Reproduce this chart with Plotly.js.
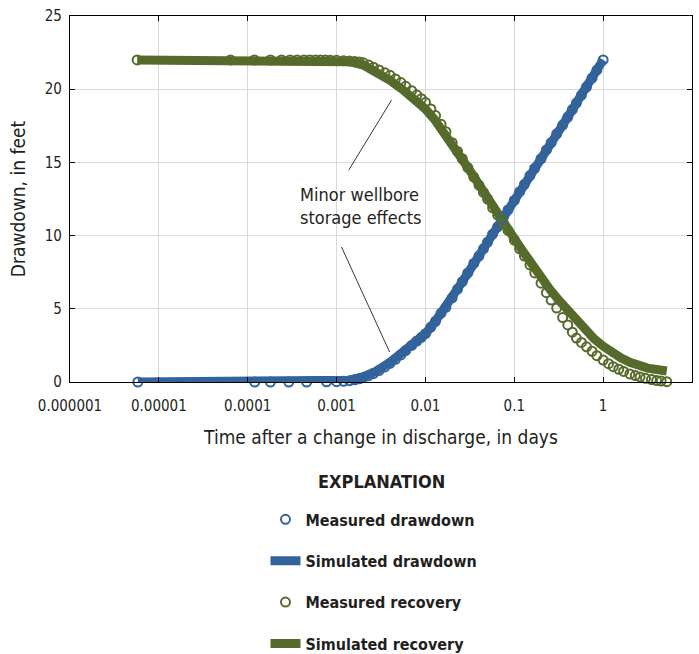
<!DOCTYPE html>
<html>
<head>
<meta charset="utf-8">
<script src="https://cdn.plot.ly/plotly-3.0.1.min.js"></script>
<style>
  html, body { margin: 0; padding: 0; background: #ffffff; }
  #chart { width: 699px; height: 654px; }
</style>
</head>
<body>
<div id="chart"></div>
<script>
// ---- Data (time after a change in discharge, days; drawdown, feet) ----
const measDrawdownTime = [5.8e-6, 1.2e-4, 1.8e-4, 2.9e-4, 4.6e-4, 7.7e-4, 1.0e-3, 1.2e-3, 1.4e-3, 1.6e-3, 1.8e-3, 2.0e-3, 2.3e-3, 2.6e-3, 3.0e-3, 3.5e-3, 4.0e-3, 4.6e-3, 5.3e-3, 6.0e-3, 7.0e-3, 8.0e-3, 9.0e-3, 0.010, 0.0115, 0.013, 0.015, 0.017, 0.02, 0.023, 0.026, 0.03, 0.035, 0.04, 0.045, 0.05, 0.057, 0.065, 0.075, 0.085, 0.1, 0.115, 0.13, 0.15, 0.17, 0.2, 0.23, 0.26, 0.3, 0.35, 0.4, 0.45, 0.5, 0.57, 0.65, 0.75, 0.85, 1.0];
const measDrawdown = [0, 0, 0, 0, 0, 0.01, 0.02, 0.05, 0.09, 0.15, 0.22, 0.3, 0.43, 0.58, 0.78, 1.03, 1.28, 1.55, 1.85, 2.15, 2.5, 2.8, 3.05, 3.3, 3.75, 4.15, 4.7, 5.1, 5.75, 6.35, 6.85, 7.45, 8.1, 8.6, 9.1, 9.55, 10.1, 10.6, 11.2, 11.75, 12.4, 13.0, 13.5, 14.1, 14.6, 15.25, 15.85, 16.35, 16.95, 17.55, 18.1, 18.6, 19.05, 19.6, 20.15, 20.75, 21.3, 22.0];

const simDrawdownTime = [5.8e-6, 1e-4, 5e-4, 1e-3, 1.4e-3, 2e-3, 2.8e-3, 4e-3, 5.6e-3, 7.9e-3, 0.01, 0.0126, 0.0158, 0.02, 0.025, 0.0316, 0.04, 0.05, 0.063, 0.079, 0.1, 0.158, 0.25, 0.4, 0.63, 1.0];
const simDrawdown = [0, 0, 0, 0.03, 0.12, 0.35, 0.75, 1.35, 2.0, 2.7, 3.3, 4.05, 4.85, 5.75, 6.7, 7.65, 8.6, 9.55, 10.5, 11.45, 12.4, 14.3, 16.2, 18.1, 20.05, 22.0];

const measRecoveryTime = [5.7e-6, 6.4e-5, 1.19e-4, 1.8e-4, 2.4e-4, 3.0e-4, 3.6e-4, 4.3e-4, 5.0e-4, 5.8e-4, 6.6e-4, 7.5e-4, 8.5e-4, 1.0e-3, 1.2e-3, 1.4e-3, 1.6e-3, 1.8e-3, 2.0e-3, 2.3e-3, 2.6e-3, 3.0e-3, 3.5e-3, 4.0e-3, 4.6e-3, 5.3e-3, 6.0e-3, 7.0e-3, 8.0e-3, 9.0e-3, 0.010, 0.0115, 0.013, 0.015, 0.017, 0.02, 0.023, 0.026, 0.03, 0.035, 0.04, 0.045, 0.05, 0.057, 0.065, 0.075, 0.085, 0.1, 0.115, 0.13, 0.15, 0.17, 0.2, 0.23, 0.26, 0.3, 0.35, 0.4, 0.45, 0.5, 0.57, 0.65, 0.75, 0.85, 1.0, 1.15, 1.3, 1.5, 1.7, 2.0, 2.3, 2.6, 3.0, 3.5, 4.0, 4.5, 5.2];
const measRecovery = [22.0, 22.0, 22.0, 22.0, 22.0, 22.0, 22.0, 22.0, 22.0, 22.0, 21.99, 21.99, 21.98, 21.97, 21.95, 21.92, 21.89, 21.86, 21.8, 21.65, 21.5, 21.32, 21.12, 20.95, 20.7, 20.45, 20.2, 19.9, 19.6, 19.35, 19.1, 18.65, 18.2, 17.6, 17.1, 16.35, 15.75, 15.25, 14.65, 14.0, 13.45, 12.95, 12.5, 11.9, 11.4, 10.85, 10.35, 9.7, 9.1, 8.6, 8.0, 7.45, 6.75, 6.1, 5.6, 5.05, 4.4, 3.9, 3.4, 3.0, 2.7, 2.4, 2.1, 1.8, 1.5, 1.25, 1.05, 0.87, 0.72, 0.55, 0.44, 0.35, 0.25, 0.17, 0.1, 0.06, 0.02];

const simRecoveryTime = [5.7e-6, 1e-4, 5e-4, 1e-3, 1.4e-3, 2e-3, 2.8e-3, 4e-3, 5.6e-3, 7.9e-3, 0.01, 0.0126, 0.0158, 0.02, 0.025, 0.0316, 0.04, 0.05, 0.063, 0.079, 0.1, 0.126, 0.158, 0.2, 0.25, 0.316, 0.4, 0.5, 0.63, 0.79, 1.0, 1.26, 1.58, 2.0, 2.5, 3.16, 4.0, 5.2];
const simRecovery = [22.0, 22.0, 22.0, 21.97, 21.88, 21.65, 21.2, 20.6, 19.95, 19.2, 18.65, 17.95, 17.15, 16.3, 15.4, 14.45, 13.5, 12.55, 11.55, 10.7, 9.8, 8.9, 8.0, 7.15, 6.35, 5.6, 4.9, 4.2, 3.55, 2.95, 2.45, 2.0, 1.65, 1.35, 1.1, 0.95, 0.85, 0.75];

const xTickVals = [0.000001, 0.00001, 0.0001, 0.001, 0.01, 0.1, 1, 10];
const xTickText = ['0.000001', '0.00001', '0.0001', '0.001', '0.01', '0.1', '1', '10'];
const yTickVals = [0, 5, 10, 15, 20, 25];

// ---- Styling ----
const BLUE = '#33639b';
const GREEN = '#566b2b';
const TXT = '#231f20';
const FONT = '"Liberation Sans Narrow", "DejaVu Sans Condensed", "Roboto Condensed", "Arial Narrow", Roboto, sans-serif';

const traces = [
  { x: simDrawdownTime, y: simDrawdown, type: 'scatter', mode: 'lines',
    name: 'Simulated drawdown', legendrank: 2, legendgroup: 'g2',
    line: { color: BLUE, width: 9 }, cliponaxis: false },
  { x: simRecoveryTime, y: simRecovery, type: 'scatter', mode: 'lines',
    name: 'Simulated recovery', legendrank: 4, legendgroup: 'g4',
    line: { color: GREEN, width: 9 }, cliponaxis: false },
  { x: measDrawdownTime, y: measDrawdown, type: 'scatter', mode: 'markers',
    name: 'Measured drawdown', legendrank: 1, legendgroup: 'g1',
    marker: { symbol: 'circle-open', size: 9, color: BLUE, line: { width: 2, color: BLUE } },
    cliponaxis: false },
  { x: measRecoveryTime, y: measRecovery, type: 'scatter', mode: 'markers',
    name: 'Measured recovery', legendrank: 3, legendgroup: 'g3',
    marker: { symbol: 'circle-open', size: 9, color: GREEN, line: { width: 2, color: GREEN } },
    cliponaxis: false }
];

const L = Math.log10;
const layout = {
  width: 699, height: 654,
  margin: { l: 70, r: 7, t: 16, b: 272, autoexpand: false },
  paper_bgcolor: '#ffffff', plot_bgcolor: '#ffffff',
  font: { family: FONT, color: TXT, size: 15 },
  showlegend: true,
  xaxis: {
    type: 'log', range: [-6, 1],
    tickvals: xTickVals, ticktext: xTickText,
    ticks: 'inside', ticklen: 5, tickcolor: '#000', tickwidth: 1,
    ticklabelstandoff: 10,
    showline: true, linecolor: '#000', linewidth: 1.2, mirror: 'ticks',
    showgrid: true, gridcolor: '#d9d9d9', gridwidth: 1.2, zeroline: false,
    tickfont: { family: FONT, size: 15, color: TXT },
    title: { text: 'Time after a change in discharge, in days', font: { family: FONT, size: 19, color: TXT }, standoff: 16 }
  },
  yaxis: {
    range: [0, 25], tickvals: yTickVals,
    ticks: 'inside', ticklen: 5, tickcolor: '#000', tickwidth: 1,
    ticklabelstandoff: 4,
    showline: true, linecolor: '#000', linewidth: 1.2, mirror: 'ticks',
    showgrid: true, gridcolor: '#d9d9d9', gridwidth: 1.2, zeroline: false,
    tickfont: { family: FONT, size: 15, color: TXT },
    title: { text: 'Drawdown, in feet', font: { family: FONT, size: 19, color: TXT }, standoff: 14 }
  },
  legend: {
    x: 0.3143, xanchor: 'left', y: -0.329, yanchor: 'top',
    orientation: 'v', traceorder: 'grouped',
    tracegroupgap: 17.6,
    font: { family: FONT, size: 16, color: TXT, weight: 'bold' },
    bgcolor: 'rgba(0,0,0,0)'
  },
  annotations: [
    { xref: 'paper', yref: 'paper', x: 0.5016, y: -0.2705, xanchor: 'center', yanchor: 'middle',
      text: '<b>EXPLANATION</b>', showarrow: false, font: { family: FONT, size: 18, color: TXT } },
    { xref: 'x', yref: 'y', x: L(0.00185), y: 12.0, text: 'Minor wellbore<br>storage effects',
      showarrow: false, align: 'left', font: { family: FONT, size: 18, color: TXT } },
    { xref: 'x', yref: 'y', x: L(0.00415), y: 19.25, text: ' ', font: { size: 1 },
      showarrow: true, arrowhead: 0, arrowwidth: 0.9, arrowcolor: '#231f20', ax: -44, ay: 72, standoff: 0 },
    { xref: 'x', yref: 'y', x: L(0.00395), y: 2.05, text: ' ', font: { size: 1 },
      showarrow: true, arrowhead: 0, arrowwidth: 0.9, arrowcolor: '#231f20', ax: -49, ay: -107, standoff: 0 }
  ]
};

Plotly.newPlot('chart', traces, layout, { displayModeBar: false, staticPlot: true });
</script>
</body>
</html>
